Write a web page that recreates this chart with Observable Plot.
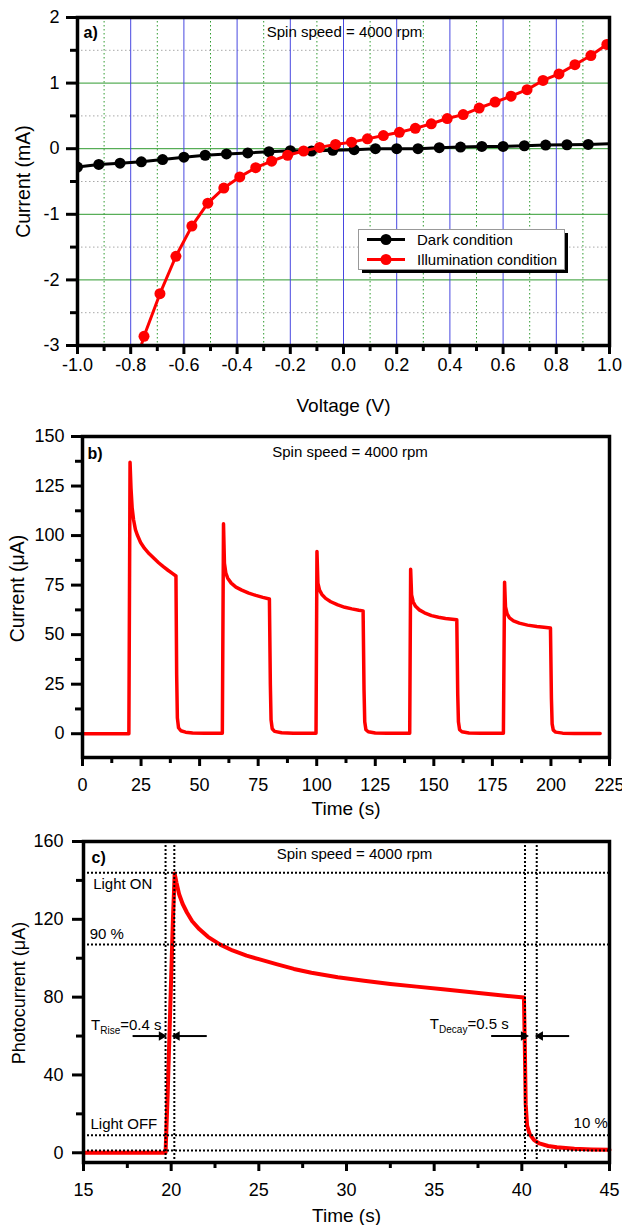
<!DOCTYPE html>
<html><head><meta charset="utf-8">
<script src="https://cdn.jsdelivr.net/npm/d3@7"></script>
<script src="https://cdn.jsdelivr.net/npm/@observablehq/plot@0.6"></script>
<style>
body{margin:0;background:#fff;font-family:"Liberation Sans",Arial,Helvetica,sans-serif;}
#wrap{position:relative;width:622px;}
#wrap svg{display:block}
</style></head><body><div id="wrap"></div>
<script>
// ---------- Panel a: I-V curves ----------
const darkV = [-1.0,-0.92,-0.84,-0.76,-0.68,-0.60,-0.52,-0.44,-0.36,-0.28,-0.20,-0.12,-0.04,0.04,0.12,0.20,0.28,0.36,0.44,0.52,0.60,0.68,0.76,0.84,0.92];
const darkI = [-0.28,-0.24,-0.22,-0.20,-0.165,-0.13,-0.10,-0.08,-0.065,-0.045,-0.03,-0.035,-0.025,-0.015,0.0,0.0,0.0,0.015,0.025,0.035,0.035,0.045,0.055,0.06,0.065];
const darkEnd = {v: 1.0, i: 0.075};
const illumV = [-0.75,-0.69,-0.63,-0.57,-0.51,-0.45,-0.39,-0.33,-0.27,-0.21,-0.15,-0.09,-0.03,0.03,0.09,0.15,0.21,0.27,0.33,0.39,0.45,0.51,0.57,0.63,0.69,0.75,0.81,0.87,0.93,0.99];
const illumI = [-2.86,-2.21,-1.64,-1.18,-0.83,-0.60,-0.43,-0.29,-0.19,-0.10,-0.035,0.02,0.065,0.10,0.15,0.20,0.25,0.31,0.38,0.46,0.52,0.62,0.71,0.80,0.90,1.04,1.14,1.28,1.42,1.59];
const illumStart = {v: -0.775, i: -3.2};
const legendLabels = ["Dark condition", "Illumination condition"];
const legendColors = ["#000000", "#ff0000"];
const aXMajor = [-1.0,-0.8,-0.6,-0.4,-0.2,0.0,0.2,0.4,0.6,0.8,1.0];
const aXMinor = [-0.9,-0.7,-0.5,-0.3,-0.1,0.1,0.3,0.5,0.7,0.9];
const aYMajor = [-3,-2,-1,0,1,2];
const aYMinor = [-2.5,-1.5,-0.5,0.5,1.5];
const aGridXMajor = [-0.8,-0.6,-0.4,-0.2,0.0,0.2,0.4,0.6,0.8];
const aGridYMajor = [-2,-1,0,1];

// ---------- Panel b: transient photocurrent ----------
const timeB = [0,19.8,20.3,20.7,21.2,21.8,22.6,23.5,24.8,26.5,28.5,30.5,32.5,34.5,36.5,38.5,39.9,40.2,40.5,41,42,44,47,52,59.7,
 60.2,60.6,61.2,62,63.5,65.5,68,71,74,77,79.8,80.2,80.5,81,82,85,90,99.7,
 100.1,100.5,101.2,102.2,103.8,106,109,112,115,118,119.8,120.2,120.5,121,122,125,130,139.7,
 140.1,140.5,141.2,142.2,143.8,146,149,152,155,159.8,160.2,160.5,161,162,165,170,179.7,
 180.2,180.6,181.3,182.3,184,186.5,190,194,197,199.8,200.2,200.5,201,202,205,210,221];
const currB = [0,0,137,124,114,108,103,100,96.5,93.5,90.8,88.5,86.3,84.3,82.5,80.8,79.6,30,8,3,1.5,0.8,0.4,0.2,0.2,
 106,86,81,78.5,76,74,72.5,71,69.8,68.8,68,25,7,2.5,1.2,0.5,0.2,0.2,
 92,76,72.5,70.3,68.3,66.6,65,63.8,63,62.3,62,22,6,2,1,0.4,0.2,0.2,
 83,70,66.5,64.3,62.5,61,59.6,58.8,58.2,57.5,20,6,2,1,0.4,0.2,0.2,
 76.5,64,60.5,58.5,57,55.8,54.8,54.1,53.7,53.3,18,5,1.8,0.8,0.3,0.1,0.1];
const bXMajor = [0,25,50,75,100,125,150,175,200,225];
const bXMinor = [12.5,37.5,62.5,87.5,112.5,137.5,162.5,187.5,212.5];
const bYMajor = [0,25,50,75,100,125,150];
const bYMinor = [12.5,37.5,62.5,87.5,112.5,137.5];

// ---------- Panel c: single pulse, rise / decay ----------
const timeC = [15,19.68,19.8,19.95,20.1,20.2,20.3,20.45,20.65,20.9,21.2,21.6,22.1,22.8,23.5,24.3,25,26,27,28,29.5,31,32.5,34,35.5,37,38.5,40.12,40.17,40.22,40.3,40.45,40.7,41,41.5,42,43,44,45];
const currC = [0,0,30,75,120,143.5,139,133,128,123.5,119,115,111,107,104,101.3,99.5,97,94.5,92.5,90.2,88.4,86.8,85.4,84,82.6,81.2,79.8,55,25,14,9.5,6.5,4.8,3.5,2.8,2.1,1.7,1.5];
const cLevels = [144, 107, 9, 1.2];          // Light ON, 90 %, 10 %, Light OFF
const cMarkers = [19.68, 20.18, 40.18, 40.85]; // vertical dotted guides
const cLabelsLeft = [
  {text: "Light ON", t: 15.55, i: 138},
  {text: "90 %", t: 15.35, i: 112.5},
  {text: "Light OFF", t: 15.4, i: 14.7}
];
const cLabelsRight = [
  {text: "10 %", t: 44.9, i: 15.3},
  {text: "TRise=0.4 s", t: 19.45, i: 65.8},
  {text: "TDecay=0.5 s", t: 39.25, i: 66}
];
const cArrows = [
  {from: 17.8, to: 19.45, dir: 90},
  {from: 22.03, to: 20.33, dir: -90},
  {from: 38.25, to: 40.1, dir: 90},
  {from: 42.7, to: 41.05, dir: -90}
];
const cArrowLevel = 60;
const cXMajor = [15,20,25,30,35,40,45];
const cXMinor = [17.5,22.5,27.5,32.5,37.5,42.5];
const cYMajor = [0,40,80,120,160];
const cYMinor = [20,60,100,140];

const spinText = "Spin speed = 4000 rpm";
const font = '"Liberation Sans", Arial, Helvetica, sans-serif';
const wrap = document.getElementById("wrap");
const style = {fontFamily: font, fontSize: "18px", color: "#000", background: "#fff", overflow: "visible"};
const RED = "#ff0000";

function axes(xMaj, xMin, yMaj, yMin, xFmt, yFmt, xPad, yPad) {
  return [
    Plot.axisX(xMaj, {tickSize: 9, tickPadding: xPad, strokeWidth: 3, tickFormat: xFmt, fontSize: 18, label: null}),
    Plot.axisX(xMin, {tickSize: 6, strokeWidth: 3, tickFormat: () => "", label: null}),
    Plot.axisY(yMaj, {tickSize: 11, tickPadding: yPad, strokeWidth: 3, tickFormat: yFmt, fontSize: 18, label: null}),
    Plot.axisY(yMin, {tickSize: 7, strokeWidth: 3, tickFormat: () => "", label: null}),
    Plot.frame({stroke: "#000", strokeWidth: 3.5})
  ];
}
function titles(tag, xTitle, yTitle, o) {
  return [
    Plot.text([tag], {text: d => d, frameAnchor: "top-left", textAnchor: "start", lineAnchor: "middle", dx: o.tagDx, dy: o.tagDy, fontWeight: "bold", fontSize: 16}),
    Plot.text([spinText], {text: d => d, frameAnchor: "top", textAnchor: "middle", lineAnchor: "middle", dx: o.spinDx, dy: o.spinDy, fontSize: 15}),
    Plot.text([xTitle], {text: d => d, frameAnchor: "bottom", textAnchor: "middle", lineAnchor: "middle", dy: o.xDy, fontSize: 19}),
    Plot.text([yTitle], {text: d => d, frameAnchor: "left", textAnchor: "middle", lineAnchor: "middle", rotate: -90, dx: o.yDx, dy: o.yDy, fontSize: o.yFs})
  ];
}

// ----- Panel a -----
const dark = darkV.map((v, k) => ({v, i: darkI[k]}));
const illum = illumV.map((v, k) => ({v, i: illumI[k]}));
const plotA = Plot.plot({
  width: 622, height: 420, marginTop: 17, marginBottom: 75, marginLeft: 77, marginRight: 13,
  style,
  x: {domain: [-1, 1], label: null},
  y: {domain: [-3, 2], label: null},
  marks: [
    Plot.ruleY(aYMinor, {stroke: "#a8a8a8", strokeWidth: 1, strokeDasharray: "1.5,2.5"}),
    Plot.ruleX(aXMinor, {stroke: "#2f9a2f", strokeWidth: 1, strokeDasharray: "1.5,2.5"}),
    Plot.ruleY(aGridYMajor, {stroke: "#2f9a2f", strokeWidth: 1}),
    Plot.ruleX(aGridXMajor, {stroke: "#4848e0", strokeWidth: 1}),
    Plot.line(dark.concat([darkEnd]), {x: "v", y: "i", stroke: "#000", strokeWidth: 3, clip: true}),
    Plot.dot(dark, {x: "v", y: "i", r: 5.5, fill: "#000", stroke: "none", clip: true}),
    Plot.line([illumStart].concat(illum), {x: "v", y: "i", stroke: RED, strokeWidth: 3, clip: true}),
    Plot.dot(illum, {x: "v", y: "i", r: 5.5, fill: RED, stroke: "none", clip: true}),
    ...axes(aXMajor, aXMinor, aYMajor, aYMinor, d => d.toFixed(1), d => String(d), 4, 7),
    ...titles("a)", "Voltage (V)", "Current (mA)", {tagDx: 6, tagDy: 15, spinDx: 1, spinDy: 15, xDy: 60, yDx: -54, yDy: 0, yFs: 19.5})
  ]
});
wrap.appendChild(plotA);

// legend (panel a)
const leg = d3.create("svg").attr("width", 214).attr("height", 48)
  .style("position", "absolute").style("left", "358px").style("top", "229px").style("overflow", "visible");
leg.append("rect").attr("x", 4).attr("y", 4).attr("width", 206).attr("height", 40).attr("fill", "#000");
leg.append("rect").attr("x", 0.5).attr("y", 0.5).attr("width", 206).attr("height", 40).attr("fill", "#fff").attr("stroke", "#999");
legendLabels.forEach((lab, k) => {
  const y = 10.5 + 20 * k;
  leg.append("line").attr("x1", 9).attr("x2", 47).attr("y1", y).attr("y2", y).attr("stroke", legendColors[k]).attr("stroke-width", 3);
  leg.append("circle").attr("cx", 28).attr("cy", y).attr("r", 5.5).attr("fill", legendColors[k]);
  leg.append("text").attr("x", 59).attr("y", y).attr("dy", "0.35em").attr("font-family", font).attr("font-size", 15).attr("fill", "#000").text(lab);
});
wrap.appendChild(leg.node());

// ----- Panel b -----
const seriesB = timeB.map((t, k) => ({t, i: currB[k]}));
const plotB = Plot.plot({
  width: 622, height: 400, marginTop: 16, marginBottom: 63, marginLeft: 82, marginRight: 13,
  style,
  x: {domain: [0, 225], label: null},
  y: {domain: [-12, 150], label: null},
  marks: [
    Plot.line(seriesB, {x: "t", y: "i", stroke: RED, strokeWidth: 3.5, strokeLinejoin: "round"}),
    ...axes(bXMajor, bXMinor, bYMajor, bYMinor, d => String(d), d => String(d), 12, 7),
    ...titles("b)", "Time (s)", "Current (\u03bcA)", {tagDx: 5, tagDy: 17, spinDx: 4, spinDy: 16, xDy: 51, yDx: -65, yDy: -8.5, yFs: 19.5})
  ]
});
wrap.appendChild(plotB);

// ----- Panel c -----
const seriesC = timeC.map((t, k) => ({t, i: currC[k]}));
const plotC = Plot.plot({
  width: 622, height: 405, marginTop: 21, marginBottom: 63, marginLeft: 83, marginRight: 13,
  style,
  x: {domain: [15, 45], label: null},
  y: {domain: [-5, 160], label: null},
  marks: [
    Plot.line(seriesC, {x: "t", y: "i", stroke: RED, strokeWidth: 4, strokeLinejoin: "round"}),
    Plot.ruleY(cLevels, {stroke: "#000", strokeWidth: 2, strokeDasharray: "2,2"}),
    Plot.ruleX(cMarkers, {stroke: "#000", strokeWidth: 2, strokeDasharray: "2,2"}),
    Plot.link(cArrows, {x1: "from", x2: "to", y1: () => cArrowLevel, y2: () => cArrowLevel, stroke: "#000", strokeWidth: 2}),
    Plot.dot(cArrows, {x: "to", y: () => cArrowLevel, symbol: "triangle2", r: 4.5, fill: "#000", stroke: "none", rotate: "dir"}),
    Plot.text(cLabelsLeft, {x: "t", y: "i", text: "text", textAnchor: "start", lineAnchor: "middle", fontSize: 15}),
    Plot.text(cLabelsRight, {x: "t", y: "i", text: "text", textAnchor: "end", lineAnchor: "middle", fontSize: 15}),
    ...axes(cXMajor, cXMinor, cYMajor, cYMinor, d => String(d), d => String(d), 12, 9),
    ...titles("c)", "Time (s)", "Photocurrent (\u03bcA)", {tagDx: 8, tagDy: 16, spinDx: 8, spinDy: 13, xDy: 53, yDx: -64.5, yDy: -9, yFs: 18})
  ]
});
wrap.appendChild(plotC);

// subscripts for T_Rise / T_Decay
plotC.querySelectorAll("text").forEach(t => {
  const m = t.textContent.match(/^T(Rise|Decay)(=.*)$/);
  if (!m) return;
  t.textContent = "";
  const ns = "http://www.w3.org/2000/svg";
  const a = document.createElementNS(ns, "tspan"); a.textContent = "T";
  const b = document.createElementNS(ns, "tspan"); b.textContent = m[1]; b.setAttribute("font-size", "10"); b.setAttribute("dy", "4");
  const c = document.createElementNS(ns, "tspan"); c.textContent = m[2]; c.setAttribute("dy", "-4");
  t.append(a, b, c);
});
</script>
</body></html>
